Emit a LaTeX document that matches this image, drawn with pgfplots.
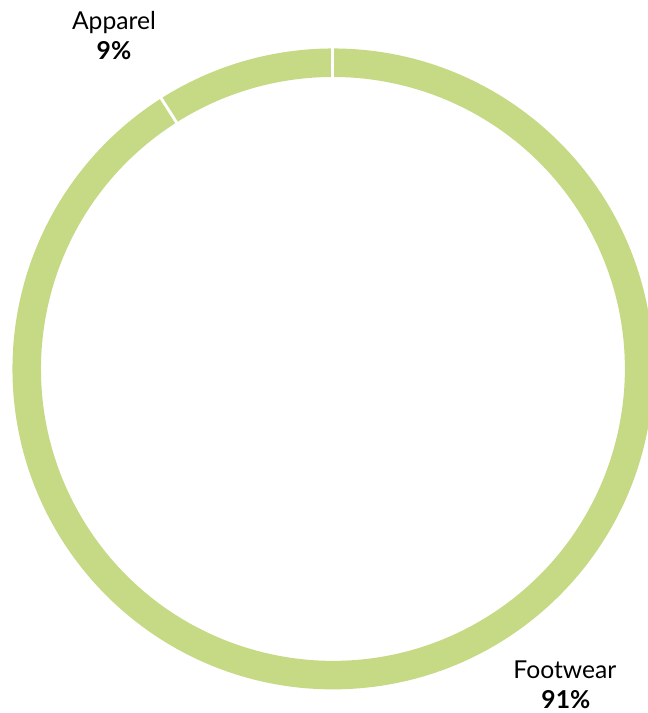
\documentclass[border=0pt]{standalone}
\usepackage{pgfplots}
\usepackage{pgfplotstable}
\pgfplotsset{compat=1.18}
\usepackage{fontspec}
\setmainfont{Lato}
\definecolor{ringgreen}{RGB}{198,218,133}
\pgfplotstableread{
label value
Footwear 91
Apparel 9
}\sharetable
\begin{document}
\begin{tikzpicture}
\pgfplotstablegetelem{0}{value}\of\sharetable
\let\valF\pgfplotsretval
\pgfplotstablegetelem{1}{value}\of\sharetable
\let\valA\pgfplotsretval
\pgfmathsetmacro\angS{90}
\pgfmathsetmacro\angF{90-3.6*\valF}
\pgfmathsetmacro\angA{\angF-3.6*\valA}
\begin{axis}[
  x=0.75pt, y=0.75pt,
  xmin=0, xmax=648, ymin=0, ymax=713,
  hide axis, clip=false,
  scale only axis,
]
\path (axis cs:0,0) rectangle (axis cs:648,713);
\begin{scope}
  \clip (axis cs:0,0) rectangle (axis cs:648,713);
  \begin{scope}[shift={(axis cs:333,344)}]
  % Footwear segment
  \fill[ringgreen] (\angS:240.4pt) arc[start angle=\angS, end angle=\angF, radius=240.4pt]
     -- (\angF:219pt) arc[start angle=\angF, end angle=\angS, radius=219pt] -- cycle;
  % Apparel segment
  \fill[ringgreen] (\angF:240.4pt) arc[start angle=\angF, end angle=\angA, radius=240.4pt]
     -- (\angA:219pt) arc[start angle=\angA, end angle=\angF, radius=219pt] -- cycle;
  \draw[white, line width=2.2pt] (\angS:217pt) -- (\angS:243pt);
  \draw[white, line width=2.2pt] (\angF:217pt) -- (\angF:243pt);
  \end{scope}
\end{scope}
\node[anchor=base, font=\fontsize{18.5}{22}\selectfont] at (axis cs:114,683.7) {Apparel};
\node[anchor=base, font=\fontsize{18.5}{22}\selectfont\bfseries] at (axis cs:114,653.7) {\valA\%};
\node[anchor=base, font=\fontsize{18.5}{22}\selectfont] at (axis cs:565,34.5) {Footwear};
\node[anchor=base, font=\fontsize{18.5}{22}\selectfont\bfseries] at (axis cs:566,4.5) {\valF\%};
\end{axis}
\end{tikzpicture}
\end{document}
